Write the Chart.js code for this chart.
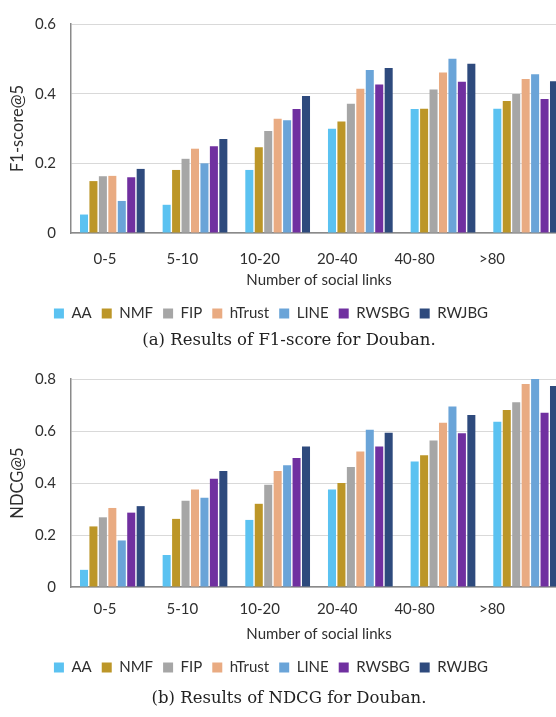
<!DOCTYPE html>
<html>
<head>
<meta charset="utf-8">
<script src="https://cdn.jsdelivr.net/npm/chart.js@4"></script>
<style>
  body { margin: 0; width: 556px; height: 717px; overflow: hidden; background: #fff; position: relative; }
  .box { position: absolute; left: -25px; width: 592px; }
  #topBox { top: 0; height: 355px; }
  #bottomBox { top: 355px; height: 362px; }
  .caption {
    position: absolute; left: 89px; width: 400px; height: 20px; line-height: 20px;
    text-align: center; font: 16.5px "DejaVu Serif", serif; color: #222; white-space: nowrap;
  }
  #capA { top: 330px; }
  #capB { top: 688px; }
</style>
</head>
<body>
<div class="box" id="topBox"><canvas id="f1Chart"></canvas></div>
<div class="box" id="bottomBox"><canvas id="ndcgChart"></canvas></div>
<div class="caption" id="capA">(a) Results of F1-score for Douban.</div>
<div class="caption" id="capB">(b) Results of NDCG for Douban.</div>
<script>
const groups = ["0-5", "5-10", "10-20", "20-40", "40-80", ">80"];
const methods = ["AA", "NMF", "FIP", "hTrust", "LINE", "RWSBG", "RWJBG"];
const colors = ["#5bc2f1", "#bc9628", "#a6a6a6", "#e9ab82", "#6aa4d8", "#7030a0", "#2e4a7d"];

// F1-score@5
const f1AA = [0.053, 0.081, 0.181, 0.299, 0.356, 0.357];
const f1NMF = [0.149, 0.181, 0.246, 0.320, 0.357, 0.379];
const f1FIP = [0.163, 0.213, 0.293, 0.371, 0.412, 0.399];
const f1HTrust = [0.164, 0.242, 0.328, 0.414, 0.461, 0.442];
const f1LINE = [0.092, 0.200, 0.324, 0.468, 0.500, 0.456];
const f1RWSBG = [0.160, 0.249, 0.356, 0.426, 0.434, 0.385];
const f1RWJBG = [0.184, 0.270, 0.393, 0.474, 0.486, 0.436];

// NDCG@5
const ndcgAA = [0.066, 0.123, 0.258, 0.375, 0.483, 0.636];
const ndcgNMF = [0.233, 0.262, 0.320, 0.400, 0.507, 0.681];
const ndcgFIP = [0.268, 0.332, 0.393, 0.462, 0.563, 0.711];
const ndcgHTrust = [0.304, 0.375, 0.446, 0.521, 0.632, 0.781];
const ndcgLINE = [0.179, 0.343, 0.468, 0.605, 0.694, 0.800];
const ndcgRWSBG = [0.286, 0.416, 0.496, 0.540, 0.591, 0.670];
const ndcgRWJBG = [0.311, 0.446, 0.540, 0.593, 0.662, 0.773];

const textColor = "#2f2f2f";
const font = { family: "Lato, 'Open Sans', sans-serif", size: 15 };
const yTitleFont = { family: "Lato, 'Open Sans', sans-serif", size: 16.5 };

function makeChart(canvas, series, yTitle, yMax, tickLen, titlePadTop, bottomPad) {
  return new Chart(canvas, {
    type: "bar",
    data: {
      labels: groups,
      datasets: methods.map((m, i) => ({
        label: m,
        data: series[i],
        backgroundColor: colors[i],
        borderWidth: 0,
        categoryPercentage: 0.8,
        barPercentage: 0.85,
      })),
    },
    options: {
      responsive: true,
      maintainAspectRatio: false,
      animation: false,
      layout: { padding: { top: 6, left: 0, right: 0, bottom: bottomPad } },
      plugins: {
        legend: {
          position: "bottom",
          labels: { boxWidth: 10, boxHeight: 10, padding: 10, color: textColor, font: font },
        },
        tooltip: { enabled: false },
      },
      scales: {
        x: {
          grid: { display: false, drawTicks: false },
          border: { color: "#8a8a8a", width: 1.5 },
          ticks: { display: false },
        },
        // tick labels of the reference sit on a slightly narrower spacing than the bar groups
        xLabels: {
          type: "linear",
          position: "bottom",
          offset: false,
          bounds: "data",
          min: -0.439,
          max: 5.969,
          grid: { display: false, drawTicks: true, tickLength: tickLen },
          border: { display: false },
          afterBuildTicks: (axis) => {
            axis.ticks = groups.map((g, i) => ({ value: i }));
          },
          ticks: {
            autoSkip: false,
            maxRotation: 0,
            padding: 0,
            color: textColor,
            font: font,
            callback: (v) => groups[v] ?? "",
          },
          title: {
            display: true,
            text: "Number of social links",
            color: textColor,
            font: font,
            padding: { top: titlePadTop, bottom: 7 },
          },
        },
        y: {
          min: 0,
          max: yMax,
          ticks: {
            stepSize: 0.2,
            padding: 15,
            color: textColor,
            font: font,
            callback: (v) => (v === 0 ? "0" : v.toFixed(1)),
          },
          grid: { color: "#d9d9d9", drawTicks: false },
          border: { color: "#8a8a8a", width: 1.5 },
          title: {
            display: true,
            text: yTitle,
            color: textColor,
            font: yTitleFont,
            padding: { top: 33, bottom: 0 },
          },
          afterFit: (axis) => {
            axis.width = 96;
          },
        },
      },
    },
  });
}

makeChart(
  document.querySelector("#f1Chart"),
  [f1AA, f1NMF, f1FIP, f1HTrust, f1LINE, f1RWSBG, f1RWJBG],
  "F1-score@5", 0.6, 17, 3, 24
);

makeChart(
  document.querySelector("#ndcgChart"),
  [ndcgAA, ndcgNMF, ndcgFIP, ndcgHTrust, ndcgLINE, ndcgRWSBG, ndcgRWJBG],
  "NDCG@5", 0.8, 13, 7, 32
);
</script>
</body>
</html>
